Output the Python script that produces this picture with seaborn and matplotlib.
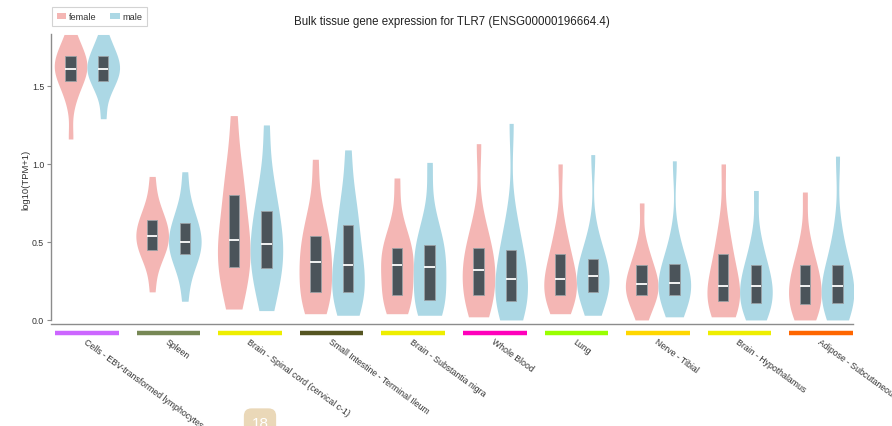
import matplotlib
matplotlib.use("Agg")
import matplotlib.pyplot as plt
import matplotlib.transforms as mtransforms
import seaborn as sns
import pandas as pd

# tissues in plotted order, GTEx tissue colours for the strip under each group
tissues = ['Cells - EBV-transformed lymphocytes', 'Spleen', 'Brain - Spinal cord (cervical c-1)',
           'Small Intestine - Terminal Ileum', 'Brain - Substantia nigra', 'Whole Blood', 'Lung',
           'Nerve - Tibial', 'Brain - Hypothalamus', 'Adipose - Subcutaneous']
tissue_colors = ['#CC66FF', '#778855', '#EEEE00', '#555522', '#EEEE00',
                 '#FF00BB', '#99FF00', '#FFD700', '#EEEE00', '#FF6600']

# log10(TPM+1), 13 quantiles per group (min ... max)
female_tpm = [
    [1.16, 1.40, 1.48, 1.53, 1.57, 1.59, 1.61, 1.63, 1.66, 1.69, 1.72, 1.76, 1.83],
    [0.18, 0.36, 0.42, 0.45, 0.49, 0.52, 0.54, 0.57, 0.60, 0.64, 0.68, 0.75, 0.92],
    [0.07, 0.18, 0.27, 0.34, 0.40, 0.46, 0.51, 0.58, 0.68, 0.80, 0.90, 1.00, 1.31],
    [0.04, 0.08, 0.13, 0.18, 0.25, 0.32, 0.37, 0.42, 0.48, 0.54, 0.62, 0.72, 1.03],
    [0.04, 0.08, 0.12, 0.16, 0.22, 0.29, 0.35, 0.39, 0.43, 0.46, 0.52, 0.62, 0.91],
    [0.02, 0.07, 0.11, 0.16, 0.22, 0.28, 0.32, 0.36, 0.41, 0.46, 0.53, 0.64, 1.13],
    [0.04, 0.10, 0.13, 0.16, 0.20, 0.23, 0.26, 0.30, 0.36, 0.42, 0.49, 0.60, 1.00],
    [0.00, 0.08, 0.13, 0.16, 0.19, 0.21, 0.23, 0.26, 0.30, 0.35, 0.40, 0.48, 0.75],
    [0.02, 0.05, 0.08, 0.12, 0.16, 0.19, 0.22, 0.27, 0.34, 0.42, 0.50, 0.62, 1.00],
    [0.00, 0.03, 0.06, 0.10, 0.15, 0.19, 0.22, 0.26, 0.30, 0.35, 0.42, 0.53, 0.82],
]
male_tpm = [
    [1.29, 1.44, 1.50, 1.53, 1.57, 1.59, 1.61, 1.63, 1.66, 1.69, 1.72, 1.76, 1.83],
    [0.12, 0.30, 0.37, 0.42, 0.45, 0.48, 0.50, 0.54, 0.58, 0.62, 0.67, 0.75, 0.95],
    [0.06, 0.17, 0.26, 0.33, 0.38, 0.44, 0.49, 0.55, 0.62, 0.70, 0.80, 0.92, 1.25],
    [0.03, 0.08, 0.13, 0.18, 0.24, 0.30, 0.35, 0.42, 0.51, 0.61, 0.70, 0.80, 1.09],
    [0.03, 0.06, 0.09, 0.13, 0.20, 0.28, 0.34, 0.39, 0.44, 0.48, 0.55, 0.66, 1.01],
    [0.00, 0.04, 0.08, 0.12, 0.17, 0.22, 0.26, 0.31, 0.38, 0.45, 0.53, 0.65, 1.26],
    [0.03, 0.11, 0.15, 0.18, 0.22, 0.25, 0.28, 0.31, 0.35, 0.39, 0.45, 0.55, 1.06],
    [0.02, 0.09, 0.13, 0.16, 0.19, 0.22, 0.24, 0.27, 0.31, 0.36, 0.42, 0.52, 1.02],
    [0.00, 0.04, 0.07, 0.11, 0.15, 0.19, 0.22, 0.26, 0.30, 0.35, 0.42, 0.53, 0.83],
    [0.00, 0.04, 0.07, 0.11, 0.15, 0.19, 0.22, 0.26, 0.30, 0.35, 0.44, 0.58, 1.05],
]

rows = []
for t, fv, mv in zip(tissues, female_tpm, male_tpm):
    for v in fv:
        rows.append((t, 'female', v))
    for v in mv:
        rows.append((t, 'male', v))
df = pd.DataFrame(rows, columns=['tissue', 'sex', 'value'])

sns.set_style("white")
plt.rcParams['font.family'] = ['Liberation Sans', 'DejaVu Sans']
axis_grey = '#8c8c8c'
text_col = '#333333'

fig = plt.figure(figsize=(8.92, 4.27), dpi=100)
ax = fig.add_axes([51 / 892, 102 / 427, 802 / 892, 290 / 427])

sns.violinplot(data=df, x='tissue', y='value', hue='sex', order=tissues,
               palette={'female': '#f4b6b4', 'male': '#acd8e5'}, saturation=1,
               cut=0, density_norm='width', inner=None, linewidth=0,
               width=0.8, bw_adjust=0.9, ax=ax)
sns.boxplot(data=df, x='tissue', y='value', hue='sex', order=tissues,
            palette={'female': '#4b545a', 'male': '#4b545a'}, saturation=1,
            width=0.8, gap=0.68, whis=0, showcaps=False, showfliers=False,
            linewidth=0.6, legend=False,
            boxprops=dict(edgecolor='#9aa0a4'),
            whiskerprops=dict(linewidth=0),
            medianprops=dict(color='white', linewidth=1.3), ax=ax)

ax.set_xlim(-0.44, 9.39)
ax.set_ylim(-0.026, 1.833)
ax.set_xlabel('')
ax.set_ylabel('log10(TPM+1)', fontsize=6.8, color=text_col, labelpad=1)
ax.set_yticks([0.0, 0.5, 1.0, 1.5])
ax.set_yticklabels(['0.0', '0.5', '1.0', '1.5'])
ax.set_xticks(range(len(tissues)))
ax.set_xticklabels(tissues, rotation=-36, ha='left', va='top', rotation_mode='anchor')
ax.tick_params(axis='x', length=3, width=0.8, color=axis_grey, labelsize=6.3,
               labelcolor=text_col, pad=6, direction='out')
ax.tick_params(axis='y', length=3, width=0.8, color=axis_grey, labelsize=6.3,
               labelcolor=text_col, pad=2, direction='out', left=True)
for s in ['top', 'right']:
    ax.spines[s].set_visible(False)
for s in ['left', 'bottom']:
    ax.spines[s].set_color(axis_grey)
    ax.spines[s].set_linewidth(1.0)
ax.spines['left'].set_bounds(0, 1.833)

# coloured tissue strip below the axis
trans = mtransforms.blended_transform_factory(ax.transData, ax.transAxes)
for i, c in enumerate(tissue_colors):
    ax.plot([i - 0.39, i + 0.39], [-0.03, -0.03], transform=trans, color=c,
            lw=3.2, solid_capstyle='butt', clip_on=False)

sns.move_legend(ax, 'upper left', bbox_to_anchor=(52 / 892, 1 - 8 / 427),
                bbox_transform=fig.transFigure, ncol=2, title=None, frameon=True,
                fancybox=False, fontsize=6.6, handlelength=1.0, handleheight=0.7,
                handletextpad=0.3, columnspacing=1.5, borderpad=0.55, borderaxespad=0)
leg = ax.get_legend()
leg.get_frame().set_edgecolor('#c8c8c8')
leg.get_frame().set_linewidth(0.8)
for t in leg.get_texts():
    t.set_color(text_col)

fig.text(452 / 892, 1 - 22 / 427, 'Bulk tissue gene expression for TLR7 (ENSG00000196664.4)',
         ha='center', va='center', fontsize=8.3, color='#222222')

# page number badge at the bottom edge
fig.text(260 / 892, 1 - 424 / 427, '18', ha='center', va='center', fontsize=11,
         color='white', bbox=dict(boxstyle='round,pad=0.5', fc='#ead8b8', ec='none'))

fig.savefig('out.png', dpi=100)
